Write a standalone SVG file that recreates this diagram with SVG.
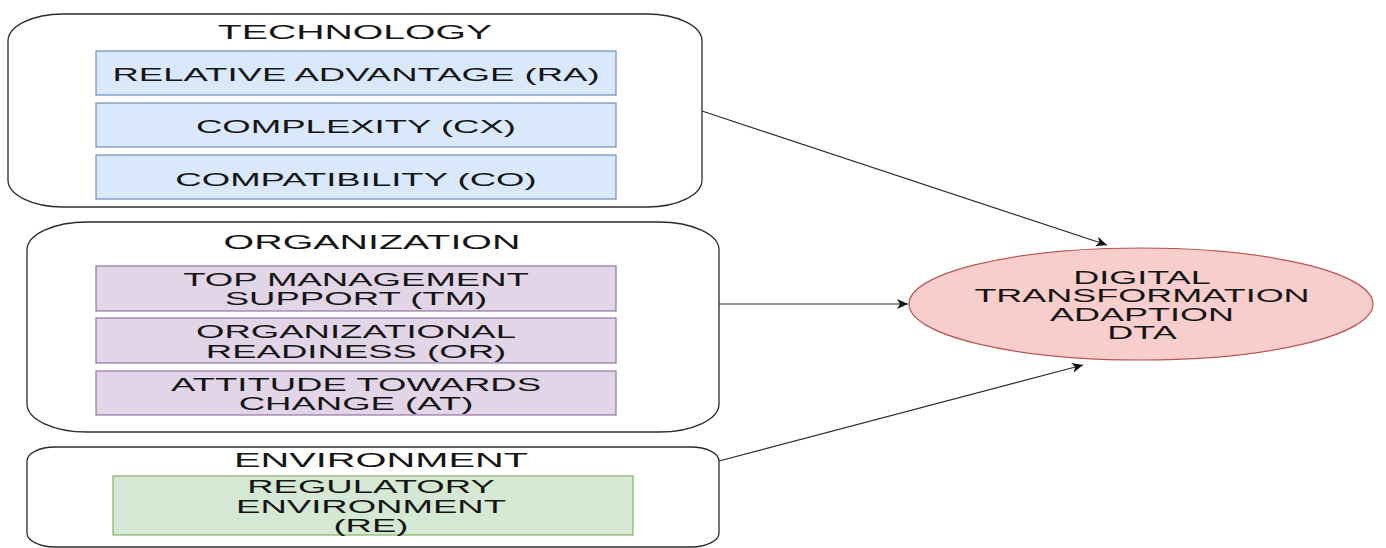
<svg xmlns="http://www.w3.org/2000/svg" width="1386" height="548" viewBox="0 0 1386 548">
<style>
.cont{fill:#fff;stroke:#2b2b2b;stroke-width:1.3}
.blue{fill:#dae8fc;stroke:#6c8ebf;stroke-width:1.2}
.purple{fill:#e1d5e7;stroke:#9673a6;stroke-width:1.2}
.green{fill:#d5e8d4;stroke:#82b366;stroke-width:1.2}
.ell{fill:#f8cecc;stroke:#b85450;stroke-width:1.2}
text{font-family:"Liberation Sans",Arial,sans-serif;fill:#151515;text-anchor:middle}
.t{font-size:20px}
.i{font-size:18px}
.edge{stroke:#2b2b2b;stroke-width:1.2;fill:none}
</style>
<defs>
<marker id="arr" markerWidth="12" markerHeight="10" refX="11" refY="5" orient="auto" markerUnits="userSpaceOnUse">
<path d="M0,0 L11,5 L0,10 L3,5 Z" fill="#111"/>
</marker>
</defs>
<g id="technology">
<rect class="cont" x="8" y="14" width="694" height="193" rx="55" ry="27"/>
<text class="t" transform="translate(355,39) scale(1.96,1)">TECHNOLOGY</text>
</g>
<g id="ra">
<rect class="blue" x="96" y="51" width="520" height="44"/>
<text class="i" transform="translate(356,81) scale(2.03,1)">RELATIVE ADVANTAGE (RA)</text>
</g>
<g id="cx">
<rect class="blue" x="96" y="103" width="520" height="44"/>
<text class="i" transform="translate(356,133) scale(2.03,1)">COMPLEXITY (CX)</text>
</g>
<g id="co">
<rect class="blue" x="96" y="155" width="520" height="44"/>
<text class="i" transform="translate(356,185.5) scale(2.03,1)">COMPATIBILITY (CO)</text>
</g>
<g id="organization">
<rect class="cont" x="27" y="222" width="692" height="210" rx="60" ry="28"/>
<text class="t" transform="translate(372,249) scale(1.97,1)">ORGANIZATION</text>
</g>
<g id="tm">
<rect class="purple" x="96" y="266" width="520" height="45"/>
<text class="i" transform="translate(356,285.5) scale(2.03,1)">TOP MANAGEMENT</text>
<text class="i" transform="translate(356,305) scale(2.03,1)">SUPPORT (TM)</text>
</g>
<g id="or">
<rect class="purple" x="96" y="318" width="520" height="45"/>
<text class="i" transform="translate(356,338) scale(2.03,1)">ORGANIZATIONAL</text>
<text class="i" transform="translate(356,357.5) scale(2.03,1)">READINESS (OR)</text>
</g>
<g id="at">
<rect class="purple" x="96" y="371" width="520" height="44"/>
<text class="i" transform="translate(356,390.5) scale(2.03,1)">ATTITUDE TOWARDS</text>
<text class="i" transform="translate(356,410) scale(2.03,1)">CHANGE (AT)</text>
</g>
<g id="environment">
<rect class="cont" x="27" y="447" width="692" height="100" rx="28" ry="14"/>
<text class="t" transform="translate(381,466.5) scale(1.99,1)">ENVIRONMENT</text>
</g>
<g id="re">
<rect class="green" x="113" y="476" width="520" height="59"/>
<text class="i" transform="translate(371,493) scale(2.03,1)">REGULATORY</text>
<text class="i" transform="translate(371,512.5) scale(2.03,1)">ENVIRONMENT</text>
<text class="i" transform="translate(371,532) scale(2.03,1)">(RE)</text>
</g>
<g id="dta">
<ellipse class="ell" cx="1141" cy="304" rx="232" ry="56"/>
<text class="i" transform="translate(1142,283.5) scale(2.0,1)">DIGITAL</text>
<text class="i" transform="translate(1142,302) scale(2.0,1)">TRANSFORMATION</text>
<text class="i" transform="translate(1142,320.5) scale(2.0,1)">ADAPTION</text>
<text class="i" transform="translate(1142,339) scale(2.0,1)">DTA</text>
</g>
<g id="connectors">
<line class="edge" x1="702" y1="111" x2="1107" y2="245" marker-end="url(#arr)"/>
<line class="edge" x1="719" y1="304" x2="908" y2="304" marker-end="url(#arr)"/>
<line class="edge" x1="719" y1="461" x2="1083" y2="365" marker-end="url(#arr)"/>
</g>
</svg>
